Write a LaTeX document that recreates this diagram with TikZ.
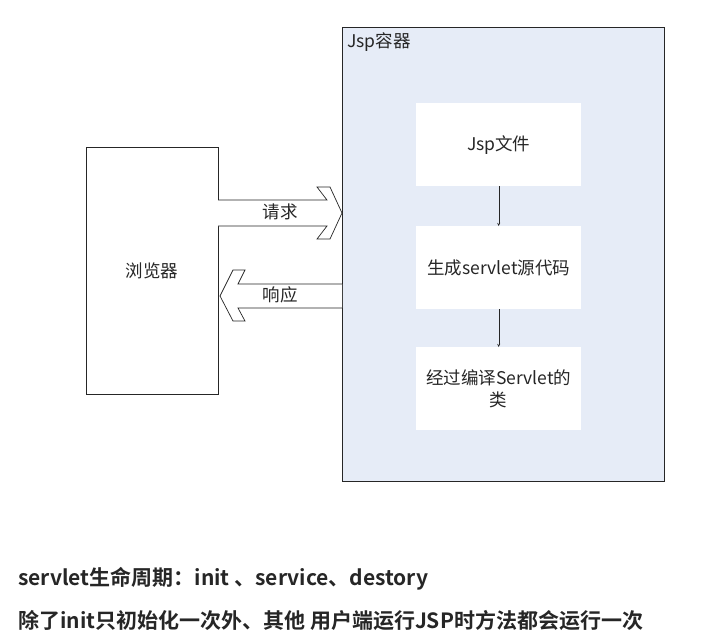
\documentclass[tikz,border=0pt]{standalone}
\usepackage{fontspec}
\newfontfamily\cjk{Noto Sans CJK SC}
\newfontfamily\cjkb{Noto Sans CJK SC Bold}
\begin{document}
\begin{tikzpicture}[x=1pt,y=-1pt,
  lbl/.style={font=\cjk\fontsize{17.5}{22}\selectfont,text=black!85,align=center},
  inbox/.style={fill=white,minimum width=165pt,minimum height=83pt,anchor=north west,inner sep=0pt,lbl,text width=155pt},
  fat/.style={draw=black!85,fill=white,line width=0.7pt},
  bot/.style={font=\cjkb\fontsize{21}{24}\selectfont,text=black!85,anchor=west,inner sep=0pt}]
\useasboundingbox (0,0) rectangle (726,641);
\fill[white] (0,0) rectangle (726,641);
\node[draw=black!85,fill={rgb,255:red,230;green,236;blue,247},minimum width=322pt,minimum height=454pt,anchor=north west,inner sep=0pt] (cont) at (342,27) {};
\node[lbl,anchor=north west,inner sep=0pt] (ct) at (347,32) {Jsp容器};
\node[draw=black!85,fill=white,minimum width=132pt,minimum height=247pt,anchor=north west,inner sep=0pt,lbl] (br) at (86,147) {浏览器};
\node[inbox] (a) at (416,103) {Jsp文件};
\node[inbox] (b) at (416,226) {生成servlet源代码};
\node[inbox] (c) at (416,347) {经过编译Servlet的\\类};
\draw[->,black!85,>=stealth] (a) -- (b);
\draw[->,black!85,>=stealth] (b) -- (c);
\draw[fat] (218,200)--(327,200)--(317,187)--(330,187)--(342,213)--(330,239)--(317,239)--(327,226)--(218,226);
\draw[fat] (342,284)--(238,284)--(245,270)--(233,270)--(220,296)--(233,321)--(245,321)--(238,308)--(342,308);
\node[lbl] (req) at (280,212) {请求};
\node[lbl] (res) at (280,295) {响应};
\node[bot] (t1) at (18,579) {servlet生命周期：init 、service、destory};
\node[bot] (t2) at (18,620) {除了init只初始化一次外、其他 用户端运行JSP时方法都会运行一次};
\end{tikzpicture}
\end{document}
